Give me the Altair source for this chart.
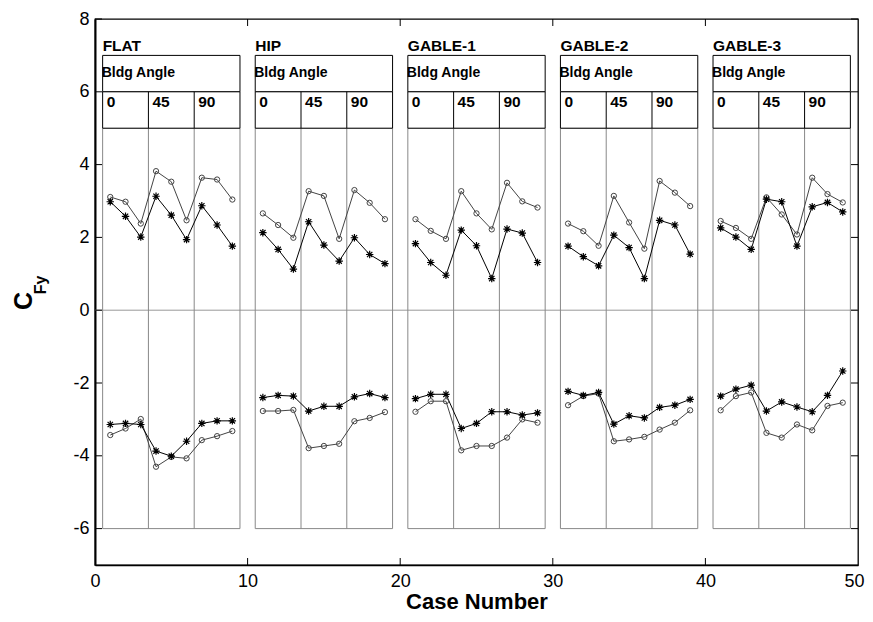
import altair as alt
import pandas as pd

groups = ["FLAT", "HIP", "GABLE-1", "GABLE-2", "GABLE-3"]
group_start = [0.5, 10.5, 20.5, 30.5, 40.5]
group_end = [9.5, 19.5, 29.5, 39.5, 49.5]
angle_labels = ["0", "45", "90"]
angle_offsets = [0, 3, 6]

cases = [1, 2, 3, 4, 5, 6, 7, 8, 9,
         11, 12, 13, 14, 15, 16, 17, 18, 19,
         21, 22, 23, 24, 25, 26, 27, 28, 29,
         31, 32, 33, 34, 35, 36, 37, 38, 39,
         41, 42, 43, 44, 45, 46, 47, 48, 49]

upper_circle = [3.11, 2.98, 2.38, 3.82, 3.53, 2.47, 3.64, 3.59, 3.04,
                2.66, 2.34, 1.99, 3.27, 3.14, 1.96, 3.30, 2.95, 2.50,
                2.50, 2.18, 1.96, 3.27, 2.66, 2.22, 3.50, 2.99, 2.82,
                2.38, 2.17, 1.77, 3.14, 2.41, 1.69, 3.55, 3.23, 2.86,
                2.45, 2.26, 1.96, 3.10, 2.63, 2.08, 3.64, 3.19, 2.96]

upper_star = [2.98, 2.58, 2.01, 3.13, 2.61, 1.94, 2.87, 2.34, 1.76,
              2.13, 1.67, 1.13, 2.43, 1.79, 1.35, 1.99, 1.53, 1.28,
              1.83, 1.31, 0.96, 2.20, 1.77, 0.87, 2.23, 2.12, 1.31,
              1.76, 1.47, 1.22, 2.06, 1.72, 0.87, 2.47, 2.34, 1.54,
              2.26, 2.01, 1.67, 3.05, 2.98, 1.76, 2.84, 2.96, 2.70]

lower_circle = [-3.43, -3.25, -2.99, -4.30, -4.03, -4.07, -3.57, -3.46, -3.32,
                -2.77, -2.77, -2.74, -3.79, -3.73, -3.67, -3.05, -2.96, -2.80,
                -2.79, -2.50, -2.50, -3.85, -3.73, -3.73, -3.50, -3.00, -3.09,
                -2.61, -2.36, -2.29, -3.60, -3.55, -3.48, -3.28, -3.09, -2.75,
                -2.75, -2.36, -2.26, -3.37, -3.50, -3.14, -3.30, -2.63, -2.54]

lower_star = [-3.14, -3.11, -3.14, -3.87, -4.01, -3.60, -3.11, -3.04, -3.04,
              -2.40, -2.34, -2.36, -2.77, -2.64, -2.64, -2.38, -2.29, -2.40,
              -2.43, -2.31, -2.31, -3.25, -3.11, -2.79, -2.79, -2.88, -2.82,
              -2.23, -2.34, -2.26, -3.13, -2.90, -2.96, -2.67, -2.61, -2.45,
              -2.36, -2.17, -2.06, -2.77, -2.52, -2.66, -2.79, -2.34, -1.67]

y_ticks = [-6, -4, -2, 0, 2, 4, 6, 8]
x_ticks = [0, 10, 20, 30, 40, 50]

W, H = 763, 546
FONT = "Liberation Sans"

xs = alt.Scale(domain=[0, 50], nice=False)
ys = alt.Scale(domain=[-7, 8], nice=False)

x_axis = alt.Axis(values=x_ticks, ticks=False, grid=False, labelFontSize=18,
                  labelFont=FONT, labelColor="black", labelPadding=7,
                  labelFlush=False, labelOverlap=False,
                  labelExpr="toString(datum.value)",
                  labelAlign={"condition": {"test": "datum.value == 50", "value": "right"},
                              "value": "center"},
                  labelOffset={"condition": {"test": "datum.value == 50", "value": 6},
                               "value": 0},
                  domainColor="black", domainWidth=1.5,
                  titleFont=FONT, titleFontSize=22, titleFontWeight="bold",
                  titleColor="black", titlePadding=1)
y_axis = alt.Axis(values=y_ticks, ticks=False, grid=False, labelFontSize=18,
                  labelFont=FONT, labelColor="black", labelPadding=6,
                  labelFlush=False, labelOverlap=False,
                  labelExpr="toString(datum.value)",
                  domainColor="black", domainWidth=2)


def XQ(f):
    return alt.X(f, type="quantitative", scale=xs, axis=x_axis, title="Case Number")


def YQ(f):
    return alt.Y(f, type="quantitative", scale=ys, axis=y_axis, title=None)


# ---- data tables
rows = []
for i, c in enumerate(cases):
    g = groups[i // 9]
    rows.append({"case": c, "val": upper_circle[i], "series": "uc", "grp": g + "u"})
    rows.append({"case": c, "val": lower_circle[i], "series": "lc", "grp": g + "l"})
    rows.append({"case": c, "val": upper_star[i], "series": "us", "grp": g + "u"})
    rows.append({"case": c, "val": lower_star[i], "series": "ls", "grp": g + "l"})
df = pd.DataFrame(rows)
circ = df[df.series.isin(["uc", "lc"])]
star = df[df.series.isin(["us", "ls"])]

panels = pd.DataFrame({"name": groups, "x0": group_start, "x1": group_end})
dividers = pd.DataFrame([{"x": s + o} for s in group_start for o in [3, 6]])
angle_df = pd.DataFrame([{"x": s + o, "lab": l} for s in group_start
                         for o, l in zip(angle_offsets, angle_labels)])

panel_body = alt.Chart(panels).mark_rect(fill=None, stroke="#888888", strokeWidth=1).encode(
    x=XQ("x0"), x2="x1:Q", y=YQ("lo"), y2="hi:Q"
).transform_calculate(lo="-6", hi="5")

div_body = alt.Chart(dividers).mark_rule(color="#888888", strokeWidth=1).encode(
    x=XQ("x"), y=YQ("lo"), y2="hi:Q"
).transform_calculate(lo="-6", hi="5")

head1 = alt.Chart(panels).mark_rect(fill="white", stroke="black", strokeWidth=1).encode(
    x=XQ("x0"), x2="x1:Q", y=YQ("lo"), y2="hi:Q"
).transform_calculate(lo="6", hi="7")

head2 = alt.Chart(panels).mark_rect(fill="white", stroke="black", strokeWidth=1).encode(
    x=XQ("x0"), x2="x1:Q", y=YQ("lo"), y2="hi:Q"
).transform_calculate(lo="5", hi="6")

div_head = alt.Chart(dividers).mark_rule(color="black", strokeWidth=1).encode(
    x=XQ("x"), y=YQ("lo"), y2="hi:Q"
).transform_calculate(lo="5", hi="6")

name_txt = alt.Chart(panels).mark_text(
    align="left", baseline="alphabetic", font=FONT, fontWeight="bold", fontSize=15.5, dx=0
).encode(x=XQ("x0"), y=YQ("yy"), text="name:N").transform_calculate(yy="7.12")

bldg_txt = alt.Chart(panels).mark_text(
    align="left", baseline="alphabetic", font=FONT, fontWeight="bold", fontSize=14, dx=-1
).encode(x=XQ("x0"), y=YQ("yy"), text="t:N").transform_calculate(yy="6.4", t="'Bldg Angle'")

ang_txt = alt.Chart(angle_df).mark_text(
    align="left", baseline="alphabetic", font=FONT, fontWeight="bold", fontSize=15.5, dx=4
).encode(x=XQ("x"), y=YQ("yy"), text="lab:N").transform_calculate(yy="5.58")

zero = alt.Chart(pd.DataFrame({"y": [0]})).mark_rule(color="#999999", strokeWidth=1).encode(
    y=YQ("y"), x=alt.value(0), x2=alt.value(W))

STAR = "M-1,0L1,0M0,-1L0,1M-0.72,-0.72L0.72,0.72M-0.72,0.72L0.72,-0.72"

circ_line = alt.Chart(circ).mark_line(color="#444444", strokeWidth=1).encode(
    x=XQ("case"), y=YQ("val"), detail="grp:N")
circ_pt = alt.Chart(circ).mark_point(shape="circle", filled=False, color="#444444",
                                     size=28, strokeWidth=1, opacity=1).encode(
    x=XQ("case"), y=YQ("val"))
star_line = alt.Chart(star).mark_line(color="black", strokeWidth=1).encode(
    x=XQ("case"), y=YQ("val"), detail="grp:N")
star_pt = alt.Chart(star).mark_point(shape=STAR, filled=False, color="black",
                                     size=55, strokeWidth=1.2, opacity=1).encode(
    x=XQ("case"), y=YQ("val"))

ytk = pd.DataFrame({"y": y_ticks})
xtk = pd.DataFrame({"x": x_ticks[1:-1]})
ltick = alt.Chart(ytk).mark_rule(color="black").encode(
    y=YQ("y"), x=alt.value(0), x2=alt.value(7))
rtick = alt.Chart(ytk).mark_rule(color="black").encode(
    y=YQ("y"), x=alt.value(W - 7), x2=alt.value(W))
btick = alt.Chart(xtk).mark_rule(color="black").encode(
    x=XQ("x"), y=alt.value(H - 7), y2=alt.value(H))
ttick = alt.Chart(xtk).mark_rule(color="black").encode(
    x=XQ("x"), y=alt.value(0), y2=alt.value(7))

c_title = alt.Chart(pd.DataFrame({"t": ["C"]})).mark_text(
    angle=270, font=FONT, fontWeight="bold", fontSize=25, align="center", baseline="middle"
).encode(x=alt.value(-71), y=alt.value(282), text="t:N")
fy_title = alt.Chart(pd.DataFrame({"t": ["Fy"]})).mark_text(
    angle=270, font=FONT, fontWeight="bold", fontSize=16, align="center", baseline="middle"
).encode(x=alt.value(-54), y=alt.value(266), text="t:N")

chart = alt.layer(
    zero, ltick, rtick, btick, ttick,
    panel_body, div_body, head1, head2, div_head,
    name_txt, bldg_txt, ang_txt,
    circ_line, star_line, circ_pt, star_pt,
    c_title, fy_title,
).properties(
    width=W, height=H,
    padding={"left": 87, "top": 11, "right": 7, "bottom": 49},
    autosize="none",
    background="white",
).configure_view(stroke="black", strokeWidth=1.3)

chart.save("out.html", embed_options={"renderer": "svg", "actions": False})
